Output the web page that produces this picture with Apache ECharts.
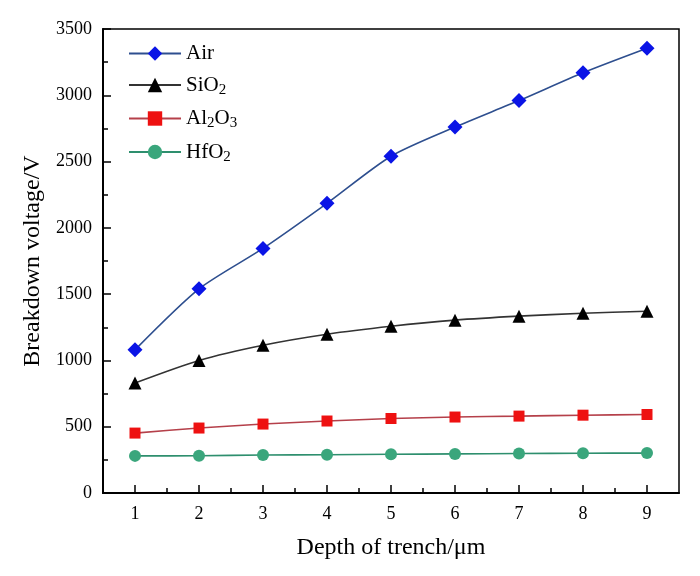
<!DOCTYPE html>
<html>
<head>
<meta charset="utf-8">
<script src="https://cdn.jsdelivr.net/npm/echarts@6/dist/echarts.min.js"></script>
<style>
html, body { margin: 0; padding: 0; background: #fff; }
#main { width: 700px; height: 576px; }
</style>
</head>
<body>
<div id="main"></div>
<script>
var depth = [1, 2, 3, 4, 5, 6, 7, 8, 9];
var halfTicks = [1.5, 2.5, 3.5, 4.5, 5.5, 6.5, 7.5, 8.5];

var air   = [1080, 1540, 1845, 2185, 2540, 2760, 2960, 3170, 3355];
var sio2  = [830, 1000, 1115, 1198, 1258, 1304, 1334, 1356, 1371];
var al2o3 = [452, 490, 520, 543, 562, 573, 580, 587, 592];
var hfo2  = [280, 281, 287, 288, 292, 295, 298, 300, 301];

var seriesNames = ['Air', 'SiO2', 'Al2O3', 'HfO2'];
// legend labels with subscripts
var legendText = {
    'Air': '{n|Air}',
    'SiO2': '{n|SiO}{s|2}',
    'Al2O3': '{n|Al}{s|2}{n|O}{s|3}',
    'HfO2': '{n|HfO}{s|2}'
};

function pairs(vals) {
    var out = [];
    for (var i = 0; i < depth.length; i++) out.push([depth[i], vals[i]]);
    return out;
}

var font = 'Liberation Serif';
var dom = document.getElementById('main');
var myChart = echarts.init(dom);

function makeSeries(name, vals, symbol, size, lineColor, markColor) {
    return {
        name: name,
        type: 'line',
        data: pairs(vals),
        smooth: 0.25,
        symbol: symbol,
        symbolSize: size,
        showAllSymbol: true,
        lineStyle: { color: lineColor, width: 1.6 },
        itemStyle: { color: markColor, borderColor: markColor, borderWidth: 0 },
        emphasis: { disabled: true },
        z: 3
    };
}

var option = {
    animation: false,
    backgroundColor: '#fff',
    textStyle: { fontFamily: font },
    grid: {
        left: 103, right: 21, top: 29, bottom: 83,
        show: true, borderColor: '#000', borderWidth: 1.5,
        backgroundColor: 'transparent'
    },
    legend: {
        orient: 'vertical',
        left: 123, top: 38,
        itemWidth: 52, itemHeight: 18,
        itemGap: 8.5,
        data: seriesNames,
        formatter: function (name) { return legendText[name]; },
        textStyle: {
            fontFamily: font, color: '#000', fontSize: 21,
            rich: {
                n: { fontFamily: font, fontSize: 21, color: '#000', lineHeight: 22 },
                s: { fontFamily: font, fontSize: 15, color: '#000', lineHeight: 16, padding: [10, 0, 0, 0] }
            }
        }
    },
    xAxis: [
        {
            type: 'value',
            min: 0.5, max: 9.5,
            name: 'Depth of trench/μm',
            nameLocation: 'middle',
            nameGap: 43,
            nameTextStyle: { fontFamily: font, fontSize: 24, color: '#000' },
            axisLine: { lineStyle: { color: '#000', width: 2 } },
            axisTick: { inside: true, length: 8, customValues: depth, lineStyle: { color: '#000', width: 1.5 } },
            axisLabel: { customValues: depth, margin: 12, fontFamily: font, fontSize: 18, color: '#000' },
            splitLine: { show: false }
        },
        {
            type: 'value',
            min: 0.5, max: 9.5,
            position: 'bottom',
            axisLine: { show: false },
            axisTick: { inside: true, length: 5, customValues: halfTicks, lineStyle: { color: '#000', width: 1.5 } },
            axisLabel: { show: false },
            splitLine: { show: false }
        }
    ],
    yAxis: {
        type: 'value',
        min: 0, max: 3500, interval: 500,
        name: 'Breakdown voltage/V',
        nameLocation: 'middle',
        nameGap: 47,
        nameTextStyle: { fontFamily: font, fontSize: 24, color: '#000' },
        axisLine: { show: true, lineStyle: { color: '#000', width: 2 } },
        axisTick: { inside: true, length: 8, lineStyle: { color: '#000', width: 1.5 } },
        minorTick: { show: true, splitNumber: 2, length: 5, lineStyle: { color: '#000', width: 1.5 } },
        axisLabel: { margin: 11, fontFamily: font, fontSize: 18, color: '#000', formatter: function (v) { return String(v); } },
        splitLine: { show: false }
    },
    series: [
        makeSeries('Air', air, 'diamond', 15, '#2e4f8f', '#0a14e6'),
        makeSeries('SiO2', sio2, 'triangle', 13, '#333333', '#000000'),
        makeSeries('Al2O3', al2o3, 'rect', 11, '#b5404a', '#ee1111'),
        makeSeries('HfO2', hfo2, 'circle', 12, '#2e8f6e', '#3aa67c')
    ]
};

myChart.setOption(option);
</script>
</body>
</html>
